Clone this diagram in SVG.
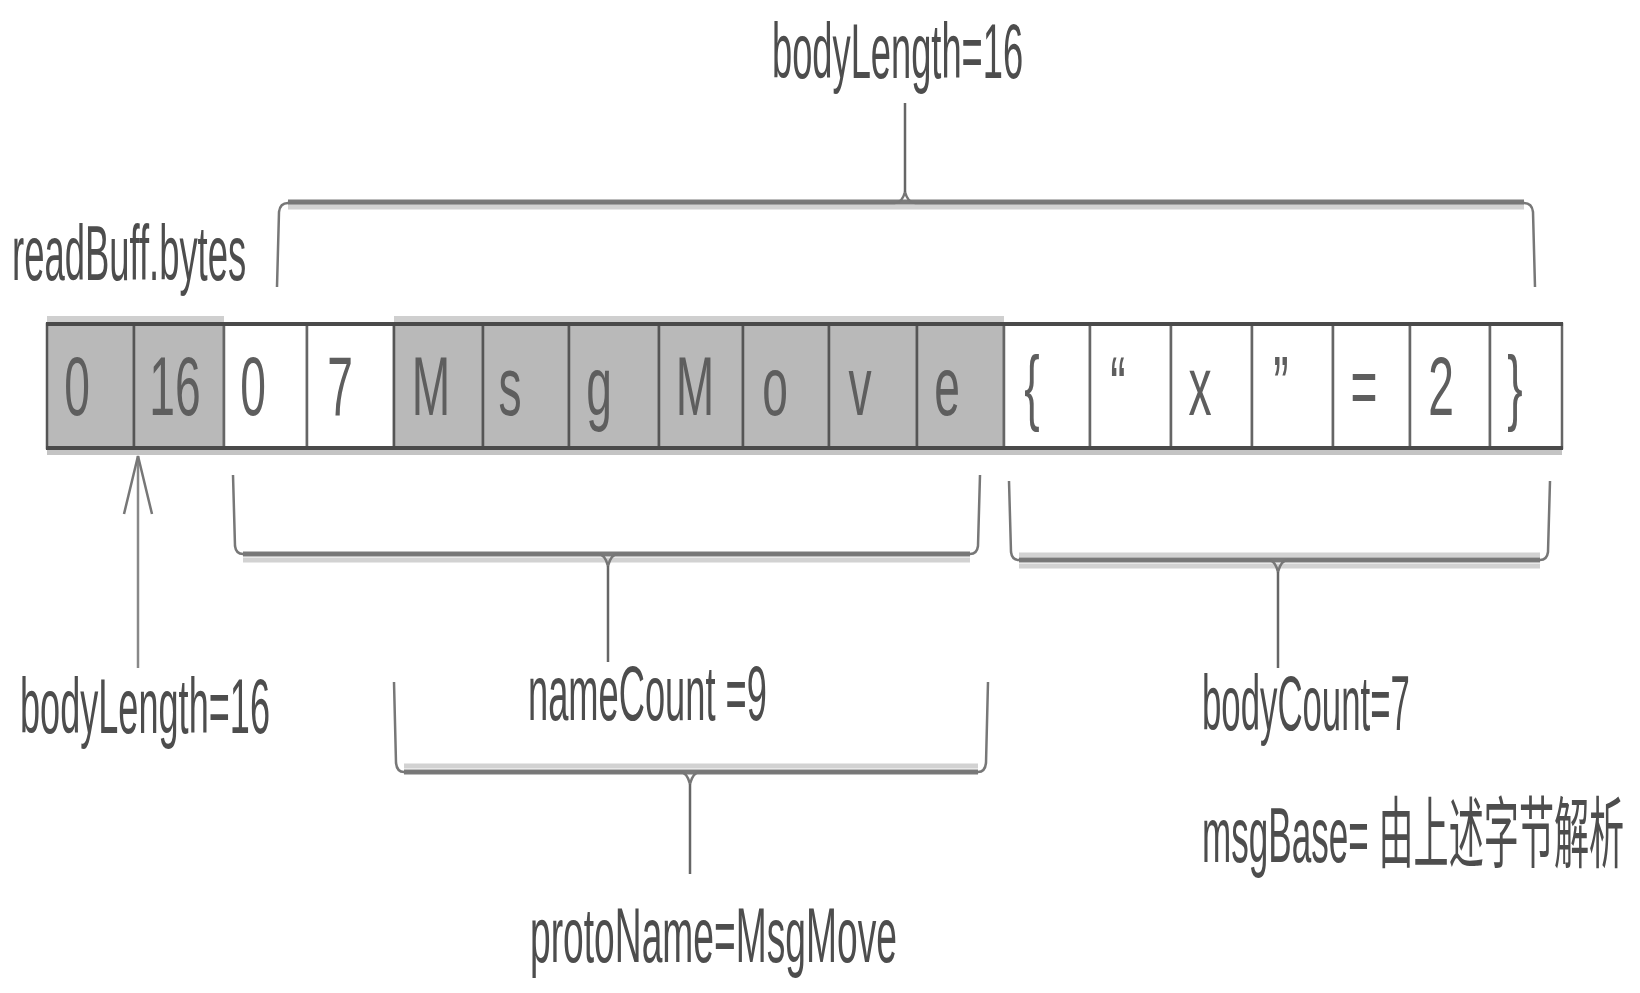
<svg xmlns="http://www.w3.org/2000/svg" width="1640" height="993" viewBox="0 0 1640 993">
<style>
.lbl{font-family:"Liberation Sans","Noto Sans CJK SC",sans-serif;font-size:78px;fill:#4d4d4d}
.c{font-family:"Liberation Sans","Noto Sans CJK SC",sans-serif;font-size:84px;fill:#5e5e5e;text-anchor:middle}
.sh{fill:#b9b9b9;stroke:#555;stroke-width:2.5}
.wh{fill:#fff;stroke:#666;stroke-width:2.5}
.br{fill:none;stroke:#777;stroke-width:2.5;stroke-linejoin:round}
.bar{stroke:#7a7a7a;stroke-width:5}
.bars{stroke:#d2d2d2;stroke-width:5}
.tip{fill:none;stroke:#666;stroke-width:2.5}
</style>
<defs>
<marker id="openArrow" markerUnits="userSpaceOnUse" viewBox="-62 -17 66 34" refX="0" refY="0" markerWidth="66" markerHeight="34" orient="auto">
<path d="M -58,-14 L 0,0 L -58,14" fill="none" stroke="#777" stroke-width="2.5"/>
</marker>
</defs>
<rect width="1640" height="993" fill="#fff"/>

<g id="row-frame">
<rect x="47" y="316" width="177" height="7" fill="#cfcfcf"/>
<rect x="394" y="316" width="610" height="7" fill="#cfcfcf"/>
<rect x="47" y="450" width="1515" height="5" fill="#c4c4c4"/>
</g>

<g id="cell-1"><rect class="sh" x="47" y="324" width="87" height="124"/><text class="c" transform="translate(77 415) scale(0.55 1)">0</text></g>
<g id="cell-2"><rect class="sh" x="134" y="324" width="90" height="124"/><text class="c" transform="translate(175 415) scale(0.55 1)">16</text></g>
<g id="cell-3"><rect class="wh" x="224" y="324" width="83" height="124"/><text class="c" transform="translate(253 415) scale(0.55 1)">0</text></g>
<g id="cell-4"><rect class="wh" x="307" y="324" width="87" height="124"/><text class="c" transform="translate(340 415) scale(0.55 1)">7</text></g>
<g id="cell-5"><rect class="sh" x="394" y="324" width="89" height="124"/><text class="c" transform="translate(431 415) scale(0.55 1)">M</text></g>
<g id="cell-6"><rect class="sh" x="483" y="324" width="86" height="124"/><text class="c" transform="translate(510 415) scale(0.55 1)">s</text></g>
<g id="cell-7"><rect class="sh" x="569" y="324" width="90" height="124"/><text class="c" transform="translate(599 415) scale(0.55 1)">g</text></g>
<g id="cell-8"><rect class="sh" x="659" y="324" width="84" height="124"/><text class="c" transform="translate(695 415) scale(0.55 1)">M</text></g>
<g id="cell-9"><rect class="sh" x="743" y="324" width="86" height="124"/><text class="c" transform="translate(775 415) scale(0.55 1)">o</text></g>
<g id="cell-10"><rect class="sh" x="829" y="324" width="88" height="124"/><text class="c" transform="translate(860 415) scale(0.55 1)">v</text></g>
<g id="cell-11"><rect class="sh" x="917" y="324" width="87" height="124"/><text class="c" transform="translate(947 415) scale(0.55 1)">e</text></g>
<g id="cell-12"><rect class="wh" x="1004" y="324" width="86" height="124"/><text class="c" transform="translate(1032 415) scale(0.55 1)">{</text></g>
<g id="cell-13"><rect class="wh" x="1090" y="324" width="81" height="124"/><text class="c" transform="translate(1118 415) scale(0.55 1)">“</text></g>
<g id="cell-14"><rect class="wh" x="1171" y="324" width="81" height="124"/><text class="c" transform="translate(1200 415) scale(0.55 1)">x</text></g>
<g id="cell-15"><rect class="wh" x="1252" y="324" width="81" height="124"/><text class="c" transform="translate(1281 415) scale(0.55 1)">”</text></g>
<g id="cell-16"><rect class="wh" x="1333" y="324" width="77" height="124"/><text class="c" transform="translate(1364 415) scale(0.55 1)">=</text></g>
<g id="cell-17"><rect class="wh" x="1410" y="324" width="80" height="124"/><text class="c" transform="translate(1441 415) scale(0.55 1)">2</text></g>
<g id="cell-18"><rect class="wh" x="1490" y="324" width="72" height="124"/><text class="c" transform="translate(1515 415) scale(0.55 1)">}</text></g>

<g id="row-borders" stroke="#4a4a4a" stroke-width="4">
<line x1="46" y1="324" x2="1563" y2="324"/>
<line x1="46" y1="448" x2="1563" y2="448"/>
</g>

<g id="connectors">
<line class="bars" x1="288" y1="207" x2="1524" y2="207"/>
<line class="bar" x1="288" y1="202" x2="1524" y2="202"/>
<path class="br" d="M277,287 L279,212 Q280,203 288,203 L895,203 Q902,203 905,192 Q908,203 915,203 L1524,203 Q1532,203 1533,212 L1535,287"/>
<path class="tip" d="M905,192 L905,103"/>
<line class="bars" x1="243" y1="560" x2="970" y2="560"/>
<line class="bar" x1="243" y1="554" x2="970" y2="554"/>
<path class="br" d="M233,475 L235,546 Q236,554 243,554 L598,554 Q605,554 608,566 Q611,554 618,554 L970,554 Q977,554 978,546 L980,475"/>
<path class="tip" d="M608,566 L608,662"/>
<line class="bars" x1="1019" y1="555" x2="1540" y2="555"/>
<line class="bars" x1="1019" y1="566" x2="1540" y2="566"/>
<line class="bar" x1="1019" y1="560" x2="1540" y2="560" stroke="#666" stroke-width="7"/>
<path class="br" d="M1009,481 L1011,552 Q1012,560 1019,560 L1268,560 Q1275,560 1278,572 Q1281,560 1288,560 L1540,560 Q1547,560 1548,552 L1550,481"/>
<path class="tip" d="M1278,572 L1278,668"/>
<line class="bars" x1="404" y1="766" x2="978" y2="766"/>
<line class="bar" x1="404" y1="772" x2="978" y2="772"/>
<path class="br" d="M394,682 L396,763 Q397,772 404,772 L680,772 Q687,772 690,784 Q693,772 700,772 L978,772 Q985,772 986,763 L988,682"/>
<path class="tip" d="M690,784 L690,874"/>
<path d="M138,668 L138,456" fill="none" stroke="#888" stroke-width="2.5" marker-end="url(#openArrow)"/>
</g>

<g id="label-readbuff"><text class="lbl" transform="translate(12 280) scale(0.467 1)">readBuff.bytes</text></g>
<g id="label-bodylength-top"><text class="lbl" transform="translate(772 78) scale(0.465 1)">bodyLength=16</text></g>
<g id="label-bodylength"><text class="lbl" transform="translate(20 733) scale(0.463 1)">bodyLength=16</text></g>
<g id="label-namecount"><text class="lbl" transform="translate(528 720) scale(0.465 1)">nameCount =9</text></g>
<g id="label-bodycount"><text class="lbl" transform="translate(1202 730) scale(0.446 1)">bodyCount=7</text></g>
<g id="label-msgbase"><text class="lbl" transform="translate(1202 862) scale(0.45 1)">msgBase= 由上述字节解析</text></g>
<g id="label-protoname"><text class="lbl" transform="translate(530 962) scale(0.477 1)">protoName=MsgMove</text></g>
</svg>
